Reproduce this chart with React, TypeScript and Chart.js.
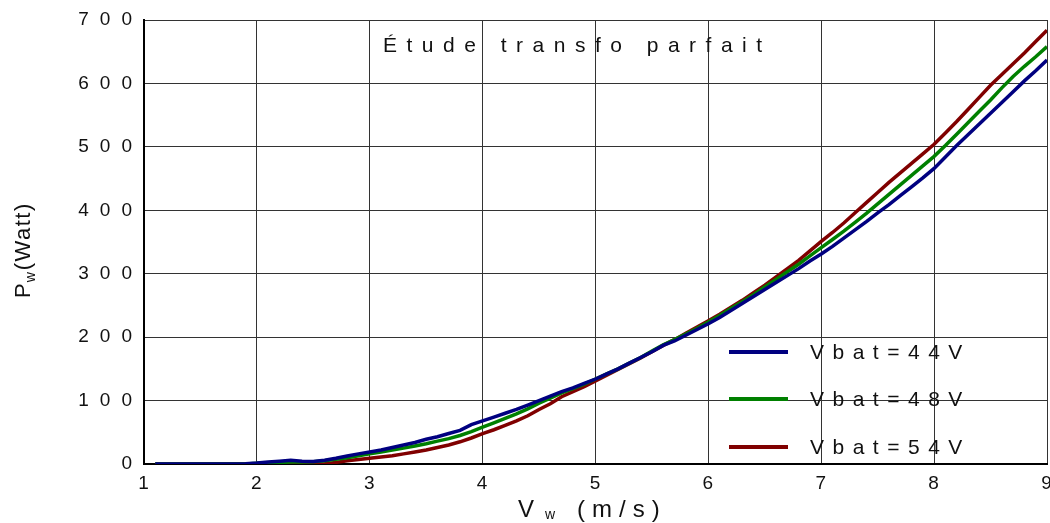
import React, { useEffect, useRef } from 'react';
import { Chart, registerables } from 'chart.js';

Chart.register(...registerables);

const windSpeed = [
  1.1, 1.2, 1.3, 1.4, 1.5, 1.6, 1.7, 1.8, 1.9, 2.0,
  2.1, 2.2, 2.3, 2.4, 2.5, 2.6, 2.7, 2.8, 2.9, 3.0,
  3.1, 3.2, 3.3, 3.4, 3.5, 3.6, 3.7, 3.8, 3.9, 4.0,
  4.1, 4.2, 4.3, 4.4, 4.5, 4.6, 4.7, 4.8, 4.9, 5.0,
  5.1, 5.2, 5.3, 5.4, 5.5, 5.6, 5.7, 5.8, 5.9, 6.0,
  6.1, 6.2, 6.3, 6.4, 6.5, 6.6, 6.7, 6.8, 6.9, 7.0,
  7.1, 7.2, 7.3, 7.4, 7.5, 7.6, 7.7, 7.8, 7.9, 8.0,
  8.1, 8.2, 8.3, 8.4, 8.5, 8.6, 8.7, 8.8, 8.9, 9.0,
];

const power44V = [
  0, 0, 0, 0, 0, 0, 0, 0, 0.5, 1.5,
  3, 4.5, 6, 4.5, 4, 6, 9, 12.5, 16, 19,
  22, 26, 30, 34, 39, 43, 48, 53, 62, 68,
  74, 80, 86, 93, 100, 107, 114, 120, 127, 134,
  142, 150, 159, 168, 177, 187, 194, 203, 212, 221,
  231, 242, 253, 264, 275, 286, 297, 308, 320, 331,
  343, 356, 369, 382, 396, 409, 423, 437, 451, 466,
  484, 502, 519, 536, 553, 570, 587, 604, 620, 637,
];

const power48V = [
  0, 0, 0, 0, 0, 0, 0, 0, 0, 1,
  2, 2.5, 3, 3, 3.5, 5, 7.5, 10, 13, 16,
  19, 22, 25, 28.5, 32, 36, 40, 45, 51, 58,
  65, 72, 79, 87, 96, 104, 112, 119, 126, 134,
  142, 150, 159, 168, 178, 188, 196, 205, 214, 224,
  234, 245, 256, 267, 279, 291, 303, 315, 328, 341,
  354, 367, 381, 395, 410, 425, 440, 455, 470, 485,
  502, 520, 538, 556, 574, 593, 611, 627, 642, 658,
];

const power54V = [
  0, 0, 0, 0, 0, 0, 0, 0, 0, 0,
  0, 1, 2, 0.5, -0.5, 0.5, 2.5, 5, 7, 9,
  11, 13, 16, 19, 22, 26, 30, 35, 41, 48,
  54, 61, 68, 76, 86, 95, 106, 114, 122, 131,
  140, 149, 158, 167, 177, 187, 196, 206, 216, 226,
  236, 247, 258, 270, 282, 295, 308, 321, 336, 351,
  365, 380, 396, 412, 428, 444, 459, 474, 489, 504,
  522, 540, 559, 578, 597, 614, 631, 648, 666, 684,
];

const seriesLabels = ['Vbat=44V', 'Vbat=48V', 'Vbat=54V'];
const seriesColors = ['#000080', '#008000', '#800000'];
const chartTitle = 'Étude transfo parfait';
const xTicks = [1, 2, 3, 4, 5, 6, 7, 8, 9];
const yTicks = [0, 100, 200, 300, 400, 500, 600, 700];

const FONT = '"Liberation Sans", Arial, sans-serif';

const textPlugin = {
  id: 'customText',
  beforeDraw(chart: any) {
    (chart.ctx as any).letterSpacing = '11px';
  },
  afterDraw(chart: any) {
    const ctx = chart.ctx as any;
    const area = chart.chartArea;
    ctx.save();
    ctx.fillStyle = '#111';
    ctx.textBaseline = 'alphabetic';
    ctx.textAlign = 'left';

    // Title inside plot
    ctx.letterSpacing = '9.5px';
    ctx.font = `21px ${FONT}`;
    ctx.fillText(chartTitle, area.left + 239, area.top + 32);

    // Legend inside plot (bottom right)
    const rows = [area.bottom - 112, area.bottom - 65, area.bottom - 17];
    seriesLabels.forEach((lab, i) => {
      ctx.strokeStyle = seriesColors[i];
      ctx.lineWidth = 4;
      ctx.beginPath();
      ctx.moveTo(area.right - 318, rows[i]);
      ctx.lineTo(area.right - 259, rows[i]);
      ctx.stroke();
      ctx.letterSpacing = '8.5px';
      ctx.font = `21px ${FONT}`;
      ctx.textBaseline = 'middle';
      ctx.fillText(lab, area.right - 237, rows[i] + 1);
    });

    // X axis title: V_w (m/s)
    ctx.textBaseline = 'alphabetic';
    const xBase = area.bottom + 53;
    const x0 = area.left + 374;
    ctx.letterSpacing = '0px';
    ctx.font = `24px ${FONT}`;
    ctx.fillText('V', x0, xBase);
    ctx.font = `14px ${FONT}`;
    ctx.fillText('w', x0 + 27, xBase + 2);
    ctx.letterSpacing = '7px';
    ctx.font = `24px ${FONT}`;
    ctx.fillText('(m/s)', x0 + 59, xBase);

    // Y axis title: P_w (Watt), rotated
    ctx.save();
    ctx.translate(30, 298);
    ctx.rotate(-Math.PI / 2);
    ctx.letterSpacing = '0px';
    ctx.font = `22px ${FONT}`;
    ctx.fillText('P', 0, 0);
    const pw = ctx.measureText('P').width;
    ctx.font = `14px ${FONT}`;
    ctx.fillText('w', pw + 1, 5);
    ctx.letterSpacing = '1.5px';
    ctx.font = `22px ${FONT}`;
    ctx.fillText('(Watt)', pw + 13, 0);
    ctx.restore();

    ctx.restore();
  },
};

export default function App() {
  const canvasRef = useRef<HTMLCanvasElement | null>(null);

  useEffect(() => {
    document.body.style.margin = '0';
    const canvas = canvasRef.current;
    if (!canvas) return;
    const makeData = (vals: number[]) => windSpeed.map((x, i) => ({ x, y: vals[i] }));
    const chart = new Chart(canvas, {
      type: 'line',
      data: {
        datasets: [power44V, power48V, power54V].map((vals, i) => ({
          label: seriesLabels[i],
          data: makeData(vals),
          borderColor: seriesColors[i],
          backgroundColor: seriesColors[i],
          borderWidth: 3.5,
          pointRadius: 0,
          tension: 0,
          fill: false,
        })),
      },
      options: {
        animation: false,
        responsive: false,
        devicePixelRatio: 1,
        layout: { padding: { top: 20, right: 3, left: 0, bottom: 0 } },
        plugins: {
          legend: { display: false },
          title: { display: false },
          tooltip: { enabled: false },
        },
        scales: {
          x: {
            type: 'linear',
            min: 1,
            max: 9,
            afterBuildTicks: (s: any) => {
              s.ticks = xTicks.map((v) => ({ value: v }));
            },
            ticks: {
              color: '#111',
              font: { family: FONT, size: 19 },
              padding: 8,
              labelOffset: 5,
              maxRotation: 0,
              callback: (v: any) => String(v),
            },
            grid: { color: '#333', lineWidth: 1, drawTicks: false },
            border: { color: '#000', width: 2 },
            afterFit: (s: any) => {
              s.height = 59;
              s.paddingLeft = 0;
              s.paddingRight = 0;
            },
          },
          y: {
            min: 0,
            max: 700,
            afterBuildTicks: (s: any) => {
              s.ticks = yTicks.map((v) => ({ value: v }));
            },
            ticks: {
              color: '#111',
              font: { family: FONT, size: 19 },
              padding: 1,
              callback: (v: any) => String(v),
            },
            grid: { color: '#333', lineWidth: 1, drawTicks: false },
            border: { color: '#000', width: 2 },
            afterFit: (s: any) => {
              s.width = 144;
              s.paddingTop = 0;
              s.paddingBottom = 0;
            },
          },
        },
      },
      plugins: [textPlugin],
    } as any);
    return () => chart.destroy();
  }, []);

  return (
    <div style={{ width: 1050, height: 523, background: '#fff' }}>
      <canvas ref={canvasRef} width={1050} height={523} style={{ display: 'block' }} />
    </div>
  );
}
